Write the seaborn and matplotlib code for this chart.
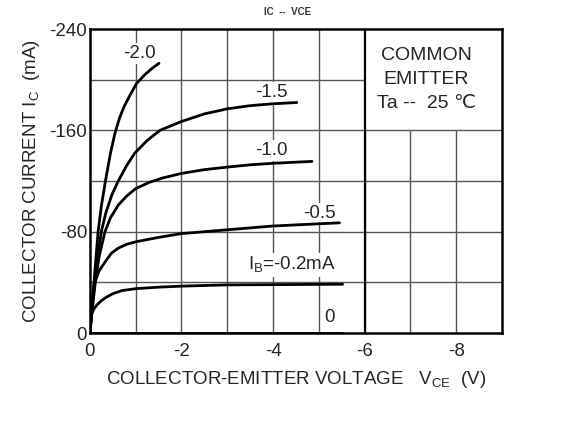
import numpy as np
import pandas as pd
import matplotlib
matplotlib.use("Agg")
import matplotlib.pyplot as plt
import seaborn as sns

# curve data (VCE in V, IC in mA), one pair per base current
vce_20 = [0, -0.045, -0.09, -0.135, -0.18, -0.25, -0.35, -0.45, -0.55, -0.65, -0.75, -0.88, -1.02, -1.2, -1.36, -1.51]
ic_20 = [0, -20, -40, -60, -80, -100, -122, -142, -158, -170, -179, -188, -197, -204, -209, -213]
vce_15 = [0, -0.05, -0.1, -0.17, -0.25, -0.35, -0.48, -0.62, -0.8, -0.98, -1.25, -1.53, -2.0, -2.5, -3.0, -3.5, -4.0, -4.52]
ic_15 = [0, -20, -40, -60, -80, -95, -109, -120, -132, -142, -152, -160, -167, -173, -177, -179.5, -181, -182]
vce_10 = [0, -0.05, -0.12, -0.2, -0.33, -0.45, -0.62, -0.8, -1.0, -1.3, -1.6, -2.0, -2.5, -3.0, -3.5, -4.0, -4.85]
ic_10 = [0, -18, -40, -60, -80, -91, -101, -108, -114, -119, -122.5, -126, -129, -131, -132.8, -134, -135.5]
vce_05 = [0, -0.03, -0.07, -0.11, -0.2, -0.33, -0.47, -0.62, -0.8, -1.0, -1.5, -2.0, -3.0, -4.0, -5.45]
ic_05 = [0, -15, -30, -40, -49, -56, -63, -67, -70, -72, -75.5, -78.5, -81.5, -84.5, -87]
vce_02 = [0, -0.02, -0.04, -0.08, -0.15, -0.25, -0.35, -0.5, -0.7, -1.0, -1.5, -2.0, -3.0, -5.52]
ic_02 = [0, -8, -15, -18.5, -22, -25.5, -28, -31, -33.5, -35, -36.2, -37, -38, -38.5]
vce_00 = [0, -5.5]
ic_00 = [0, 0]

ib_names = ["-2.0", "-1.5", "-1.0", "-0.5", "-0.2", "0"]
ib_labels = ["-2.0", "-1.5", "-1.0", "-0.5", "I$_\\mathregular{B}$=-0.2mA", "0"]
label_x = [-1.09, -3.97, -3.97, -5.02, -4.41, -5.24]
label_y = [-221, -190, -144, -94.7, -53.7, -12.2]

x_ticks = [0, -2, -4, -6, -8]
y_ticks = [0, -80, -160, -240]

curves = [(vce_20, ic_20), (vce_15, ic_15), (vce_10, ic_10),
          (vce_05, ic_05), (vce_02, ic_02), (vce_00, ic_00)]
rows = []
for name, (vx, iy) in zip(ib_names, curves):
    for a, b in zip(vx, iy):
        rows.append({"ib": name, "vce": a, "ic": b})
df = pd.DataFrame(rows)

sns.set_style("white")
plt.rcParams["font.family"] = ["Liberation Sans", "DejaVu Sans"]
plt.rcParams["mathtext.fontset"] = "custom"
plt.rcParams["mathtext.rm"] = "Liberation Sans"

fig = plt.figure(figsize=(5.76, 4.21), dpi=100)
ax = fig.add_axes([0.156, 0.209, 0.7155, 0.722])

# grid (left out inside the note box at top right)
gc = "#555555"
for v in range(-1, -9, -1):
    top = -240 if v > -6 else -160
    ax.vlines(v, 0, top, color=gc, lw=1.0, zorder=1)
for h in range(-40, -240, -40):
    right = -9 if h >= -160 else -6
    ax.hlines(h, 0, right, color=gc, lw=1.0, zorder=1)
ax.vlines(-6, 0, -240, color="black", lw=1.6, zorder=1)

sns.lineplot(data=df, x="vce", y="ic", hue="ib", units="ib", estimator=None,
             sort=False, palette=["black"] * 6, lw=2.0, legend=False, ax=ax, zorder=3)

# labels sit under the curves; their white boxes only break the grid
for t, x, y in zip(ib_labels, label_x, label_y):
    ax.text(x, y, t, ha="center", va="center", fontsize=13.5, zorder=2,
            bbox=dict(facecolor="white", edgecolor="none", pad=1.5))

ax.text(-7.34, -219.4, "COMMON", ha="center", va="center", fontsize=14)
ax.text(-7.34, -200, "EMITTER", ha="center", va="center", fontsize=14)
ax.text(-7.34, -181, "Ta --  25 \u2103", ha="center", va="center", fontsize=14)

ax.set_xlim(0, -9)
ax.set_ylim(0, -240)
ax.set_xticks(x_ticks)
ax.set_xticklabels([str(v) for v in x_ticks])
ax.set_yticks(y_ticks)
ax.set_yticklabels([str(v) for v in y_ticks])
ax.tick_params(axis="x", length=0, labelsize=13.5, pad=7)
ax.tick_params(axis="y", length=0, labelsize=13.5, pad=2)
for s in ax.spines.values():
    s.set_color("black")
    s.set_linewidth(1.8)

ax.set_xlabel("COLLECTOR-EMITTER VOLTAGE   V$_\\mathregular{CE}$  (V)", fontsize=13.5, labelpad=7)
ax.set_ylabel("COLLECTOR CURRENT I$_\\mathregular{C}$  (mA)", fontsize=13.5, labelpad=5)

fig.text(0.5, 0.971, "IC  --  VCE", ha="center", va="center", fontsize=7,
         fontweight="bold", color="#333333")

fig.savefig("out.png", dpi=100)
